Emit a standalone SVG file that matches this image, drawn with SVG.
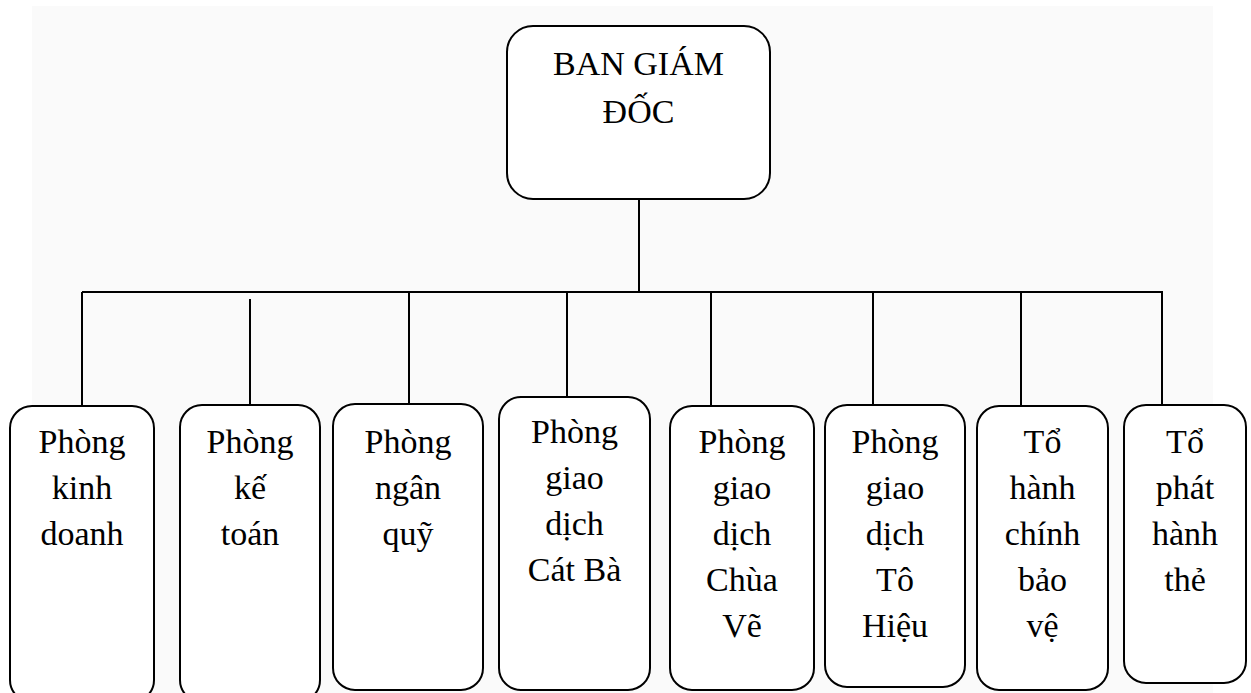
<svg xmlns="http://www.w3.org/2000/svg" width="1251" height="693" viewBox="0 0 1251 693">
  <style>
    .box { fill: #ffffff; stroke: #000000; stroke-width: 2; }
    .wire { fill: none; stroke: #000000; stroke-width: 2; }
    .label { font-family: 'Liberation Serif', 'DejaVu Serif', serif; font-size: 34px; fill: #000000; text-anchor: middle; }
  </style>
  <rect x="0" y="0" width="1251" height="693" fill="#ffffff"/>
  <rect x="32" y="6" width="1181" height="687" fill="#fafafa"/>

  <g id="connectors" class="wire">
    <line x1="639" y1="199" x2="639" y2="292"/>
    <line x1="82" y1="292" x2="1163" y2="292"/>
    <line x1="82" y1="292" x2="82" y2="406"/>
    <line x1="250" y1="299" x2="250" y2="405"/>
    <line x1="409" y1="292" x2="409" y2="404"/>
    <line x1="567" y1="292" x2="567" y2="397"/>
    <line x1="711" y1="292" x2="711" y2="406"/>
    <line x1="873" y1="292" x2="873" y2="405"/>
    <line x1="1021" y1="292" x2="1021" y2="406"/>
    <line x1="1162" y1="292" x2="1162" y2="405"/>
  </g>

  <g id="ban-giam-doc" class="label" font-family="Liberation Serif, serif">
    <rect class="box" x="507" y="26" width="263" height="173" rx="26"/>
    <text x="638.5" y="75">BAN GIÁM</text>
    <text x="638.5" y="123">ĐỐC</text>
  </g>

  <g id="phong-kinh-doanh" class="label">
    <rect class="box" x="10" y="406" width="144" height="296" rx="22"/>
    <text x="82" y="453">Phòng</text>
    <text x="82" y="499">kinh</text>
    <text x="82" y="545">doanh</text>
  </g>

  <g id="phong-ke-toan" class="label">
    <rect class="box" x="180" y="405" width="140" height="297" rx="22"/>
    <text x="250" y="453">Phòng</text>
    <text x="250" y="499">kế</text>
    <text x="250" y="545">toán</text>
  </g>

  <g id="phong-ngan-quy" class="label">
    <rect class="box" x="333" y="404" width="150" height="286" rx="22"/>
    <text x="408" y="453">Phòng</text>
    <text x="408" y="499">ngân</text>
    <text x="408" y="545">quỹ</text>
  </g>

  <g id="pgd-cat-ba" class="label">
    <rect class="box" x="499" y="397" width="151" height="293" rx="22"/>
    <text x="574.5" y="443">Phòng</text>
    <text x="574.5" y="489">giao</text>
    <text x="574.5" y="535">dịch</text>
    <text x="574.5" y="581">Cát Bà</text>
  </g>

  <g id="pgd-chua-ve" class="label">
    <rect class="box" x="670" y="406" width="144" height="284" rx="22"/>
    <text x="742" y="453">Phòng</text>
    <text x="742" y="499">giao</text>
    <text x="742" y="545">dịch</text>
    <text x="742" y="591">Chùa</text>
    <text x="742" y="637">Vẽ</text>
  </g>

  <g id="pgd-to-hieu" class="label">
    <rect class="box" x="825" y="405" width="140" height="282" rx="22"/>
    <text x="895" y="453">Phòng</text>
    <text x="895" y="499">giao</text>
    <text x="895" y="545">dịch</text>
    <text x="895" y="591">Tô</text>
    <text x="895" y="637">Hiệu</text>
  </g>

  <g id="to-hanh-chinh-bao-ve" class="label">
    <rect class="box" x="977" y="406" width="131" height="284" rx="22"/>
    <text x="1042.5" y="453">Tổ</text>
    <text x="1042.5" y="499">hành</text>
    <text x="1042.5" y="545">chính</text>
    <text x="1042.5" y="591">bảo</text>
    <text x="1042.5" y="637">vệ</text>
  </g>

  <g id="to-phat-hanh-the" class="label">
    <rect class="box" x="1124" y="405" width="122" height="278" rx="22"/>
    <text x="1185" y="453">Tổ</text>
    <text x="1185" y="499">phát</text>
    <text x="1185" y="545">hành</text>
    <text x="1185" y="591">thẻ</text>
  </g>
</svg>
